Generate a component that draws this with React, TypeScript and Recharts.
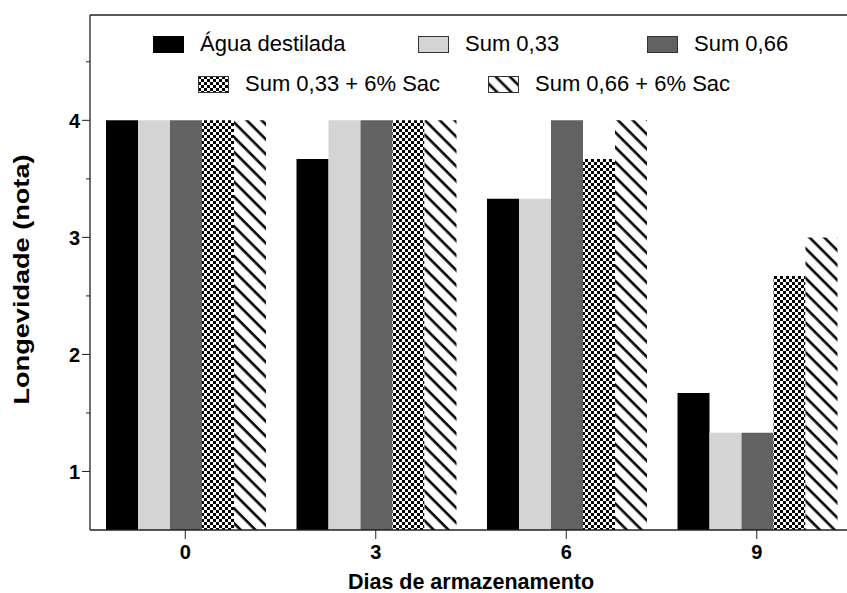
import React from "react";
import { BarChart, Bar, XAxis, YAxis, Legend, ReferenceLine } from "recharts";

const days = ["0", "3", "6", "9"];
const agua = [4, 3.67, 3.33, 1.67];
const sum033 = [4, 4, 3.33, 1.33];
const sum066 = [4, 4, 4, 1.33];
const sum033Sac = [4, 4, 3.67, 2.67];
const sum066Sac = [4, 4, 4, 3];

const seriesNames = ["Água destilada", "Sum 0,33", "Sum 0,66", "Sum 0,33 + 6% Sac", "Sum 0,66 + 6% Sac"];
const yTicks = [1, 1.5, 2, 2.5, 3, 3.5, 4, 4.5];
const Y_MIN = 0.5;
const Y_MAX = 4.9;

const FONT = "'Liberation Sans', Arial, sans-serif";
const AXIS = "#222";

const data = days.map((d, i) => ({
  day: d,
  s0: agua[i],
  s1: sum033[i],
  s2: sum066[i],
  s3: sum033Sac[i],
  s4: sum066Sac[i],
}));

const fills = ["#000000", "#d4d4d4", "#626262", "url(#checker)", "url(#hatch)"];
const legendFills = ["#000000", "#d4d4d4", "#626262", "url(#lg-checker)", "url(#lg-hatch)"];

// legend item placement (page coords)
const legendSpots = [
  { left: 153, top: 28 },
  { left: 418, top: 28 },
  { left: 647, top: 28 },
  { left: 198, top: 68 },
  { left: 488, top: 68 },
];

function Swatch({ idx }: { idx: number }) {
  return (
    <svg width={31} height={17} style={{ display: "block" }}>
      <defs>
        <pattern id="lg-checker" width={6} height={6} patternUnits="userSpaceOnUse">
          <rect width={6} height={6} fill="#fff" />
          <rect width={3} height={3} fill="#000" />
          <rect x={3} y={3} width={3} height={3} fill="#000" />
        </pattern>
        <pattern id="lg-hatch" width={10} height={10} patternUnits="userSpaceOnUse" patternTransform="rotate(45)">
          <rect width={10} height={10} fill="#fff" />
          <line x1={0} y1={5} x2={10} y2={5} stroke="#000" strokeWidth={2.6} />
        </pattern>
      </defs>
      <rect x={0.5} y={0.5} width={30} height={16} fill={legendFills[idx]} stroke={idx === 0 ? "#000" : "#333"} strokeWidth={1} />
    </svg>
  );
}

function renderLegend() {
  return (
    <div style={{ position: "relative", width: 847, height: 110, fontFamily: FONT }}>
      {seriesNames.map((name, i) => (
        <div
          key={name}
          style={{
            position: "absolute",
            left: legendSpots[i].left,
            top: legendSpots[i].top,
            display: "flex",
            alignItems: "center",
            height: 32,
            whiteSpace: "nowrap",
          }}
        >
          <Swatch idx={i} />
          <span style={{ marginLeft: 16, fontSize: 22, color: "#000" }}>{name}</span>
        </div>
      ))}
    </div>
  );
}

function YTick(props: any) {
  const { x, y, payload } = props;
  const major = Number.isInteger(payload.value);
  return (
    <g>
      <line x1={major ? x + 2 : x + 6} x2={x + 10} y1={y} y2={y} stroke={AXIS} strokeWidth={1} />
      {major && (
        <text x={x} y={y} dy="0.4em" textAnchor="end" fontSize={20} fontWeight="bold" fontFamily={FONT} fill="#000">
          {payload.value}
        </text>
      )}
    </g>
  );
}

function YLabel(props: any) {
  const { viewBox } = props;
  const cy = viewBox.y + viewBox.height / 2 + 7;
  return (
    <text
      x={29}
      y={cy}
      transform={`rotate(-90, 29, ${cy})`}
      textAnchor="middle"
      fontSize={22}
      fontWeight="bold"
      fontFamily={FONT}
      fill="#000"
      textLength={250}
      lengthAdjust="spacingAndGlyphs"
    >
      Longevidade (nota)
    </text>
  );
}

function XLabel(props: any) {
  const { viewBox } = props;
  return (
    <text
      x={viewBox.x + viewBox.width / 2}
      y={589}
      textAnchor="middle"
      fontSize={21.5}
      fontWeight="bold"
      fontFamily={FONT}
      fill="#000"
    >
      Dias de armazenamento
    </text>
  );
}

export default function App() {
  return (
    <div style={{ position: "absolute", left: 0, top: 0, width: 847, height: 593, overflow: "hidden", background: "#fff" }}>
      <BarChart
        width={847}
        height={593}
        data={data}
        margin={{ top: 15, right: -5, left: 0, bottom: 0 }}
        barCategoryGap="8.4%"
        barGap={0}
      >
        <defs>
          <pattern id="checker" width={6} height={6} patternUnits="userSpaceOnUse">
            <rect width={6} height={6} fill="#fff" />
            <rect width={3} height={3} fill="#000" />
            <rect x={3} y={3} width={3} height={3} fill="#000" />
          </pattern>
          <pattern id="hatch" width={10.5} height={10.5} patternUnits="userSpaceOnUse" patternTransform="rotate(45)">
            <rect width={10.5} height={10.5} fill="#fff" />
            <line x1={0} y1={5} x2={10.5} y2={5} stroke="#000" strokeWidth={2.6} />
          </pattern>
        </defs>
        <XAxis
          dataKey="day"
          height={63}
          tickSize={9}
          tickMargin={6}
          axisLine={{ stroke: AXIS, strokeWidth: 1.3 }}
          tickLine={{ stroke: AXIS, strokeWidth: 1 }}
          tick={{ fill: "#000", fontSize: 20, fontWeight: "bold", fontFamily: FONT }}
          label={<XLabel />}
        />
        <YAxis
          width={90}
          domain={[Y_MIN, Y_MAX]}
          ticks={yTicks}
          allowDataOverflow
          interval={0}
          tickSize={8}
          tickMargin={2}
          tickLine={false}
          axisLine={{ stroke: AXIS, strokeWidth: 1.3 }}
          tick={<YTick />}
          label={<YLabel />}
        />
        <ReferenceLine y={Y_MAX} stroke={AXIS} strokeWidth={1.3} />
        <Legend
          content={renderLegend}
          layout="horizontal"
          verticalAlign="middle"
          align="center"
          wrapperStyle={{ top: 0, left: 0, width: 847, height: 110 }}
        />
        {fills.map((f, i) => (
          <Bar key={i} dataKey={`s${i}`} name={seriesNames[i]} fill={f} isAnimationActive={false} />
        ))}
      </BarChart>
    </div>
  );
}
